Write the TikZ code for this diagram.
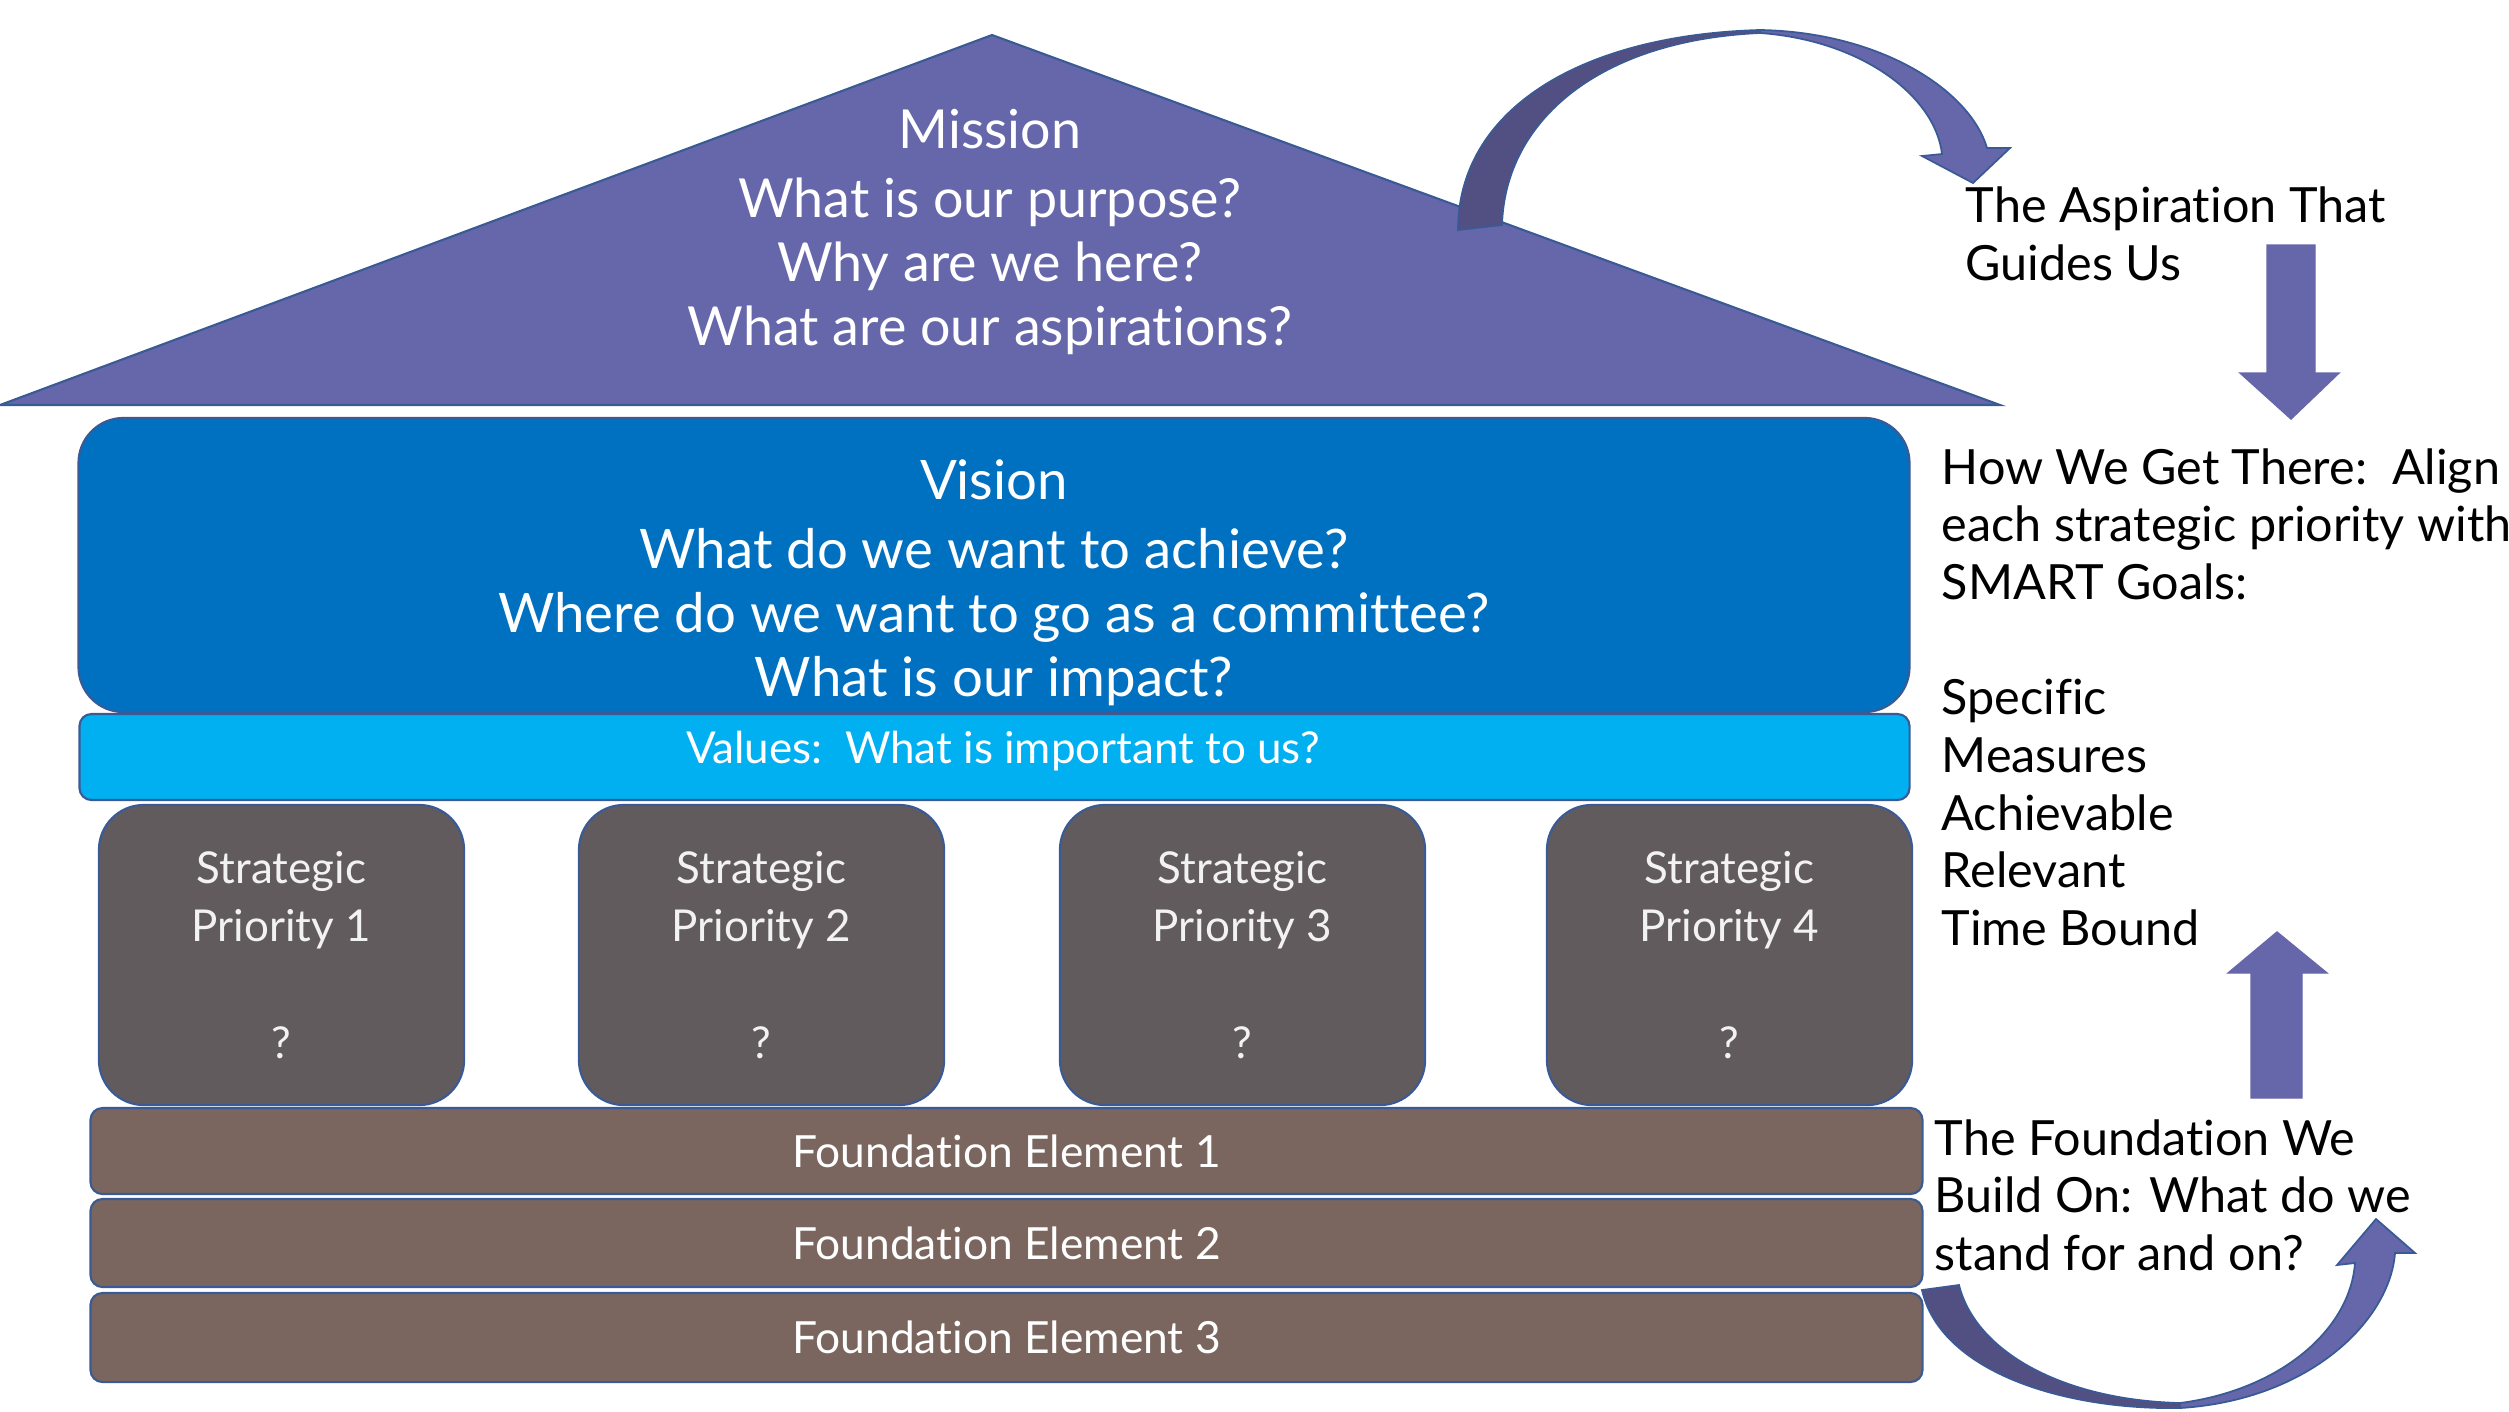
\documentclass[tikz,border=0pt]{standalone}
\usepackage{fontspec}
\setmainfont{Lato}[Ligatures=NoCommon]
\definecolor{roof}{HTML}{6567AA}
\definecolor{roofdark}{HTML}{524F82}
\definecolor{edge}{HTML}{3A5A96}
\definecolor{vision}{HTML}{0070C0}
\definecolor{values}{HTML}{00B0F0}
\definecolor{pillar}{HTML}{625B5E}
\definecolor{found}{HTML}{7A665F}
\begin{document}
\begin{tikzpicture}[x=0.01cm,y=-0.01cm,
  box/.style={draw=edge, line width=0.6pt, inner sep=0pt},
  whitetxt/.style={text=white, align=center, inner sep=0pt},
  sidetxt/.style={text=black, align=left, inner sep=0pt, anchor=west, font=\fontsize{13.8}{16.4}\selectfont},
  pillarbox/.style={box, fill=pillar, rounded corners=0.45cm, minimum width=3.65cm, minimum height=3.0cm, text=white!95!black, align=center, font=\fontsize{12.5}{16.4}\selectfont},
  foundbox/.style={box, fill=found, rounded corners=0.12cm, minimum width=18.31cm, text=white, font=\fontsize{12.6}{14}\selectfont},
  blockarrow/.style={fill=roof, draw=roof, line width=0.4pt},
  curvedark/.style={fill=roofdark, draw=edge, line width=0.5pt},
  curvelight/.style={fill=roof, draw=edge, line width=0.5pt}
]
\useasboundingbox (0,0) rectangle (2509,1411);

% roof
\filldraw[fill=roof, draw=edge, line width=0.6pt] (0,405) -- (992,35) -- (2000,405) -- cycle;
\node[whitetxt, font=\fontsize{15.3}{18.2}\selectfont] (mission) at (990,232)
  {Mission\\[1.5pt]What is our purpose?\\Why are we here?\\What are our aspirations?};

% vision
\node[box, fill=vision, rounded corners=0.45cm, minimum width=18.30cm, minimum height=2.94cm] (vision) at (994,565) {};
\node[whitetxt, font=\fontsize{15.5}{18.2}\selectfont] (visiontext) at (994,583)
  {Vision\\[1.5pt]What do we want to achieve?\\Where do we want to go as a committee?\\What is our impact?};

% values
\node[box, fill=values, rounded corners=0.12cm, minimum width=18.29cm, minimum height=0.86cm] (values) at (994.5,757) {};
\node[whitetxt, font=\fontsize{12.5}{15}\selectfont] (valuestext) at (1003,751) {Values:\ \ What is important to us?};

% pillars
\foreach \i/\x in {1/281.5,2/761.5,3/1242.5,4/1729.5}
  \node[pillarbox] (p\i) at (\x,955) {Strategic\\Priority \i\\[17pt]?};

% foundation
\node[foundbox, minimum height=0.86cm] (f1) at (1006.5,1151) {Foundation Element 1};
\node[foundbox, minimum height=0.88cm] (f2) at (1006.5,1243) {Foundation Element 2};
\node[foundbox, minimum height=0.89cm] (f3) at (1006.5,1337.5) {Foundation Element 3};

% side texts
\node[sidetxt] (aspiration) at (1965,234) {The Aspiration That\\Guides Us};
\node[sidetxt] (howwe) at (1941,697) {How We Get There:\ \ Align\\each strategic priority with\\SMART Goals:\\ \\Specific\\Measures\\Achievable\\Relevant\\Time Bound};
\node[sidetxt] (foundtxt) at (1934,1195) {The Foundation We\\Build On: What do we\\stand for and on?};

% straight block arrows
\filldraw[blockarrow] (2267,245) -- (2315,245) -- (2315,373) -- (2339,373) -- (2291,419) -- (2240,373) -- (2267,373) -- cycle;
\filldraw[blockarrow] (2251,1098) -- (2302,1098) -- (2302,973) -- (2327,973) -- (2277,932) -- (2228,973) -- (2251,973) -- cycle;

% top curved arrow
\filldraw[curvedark] (1458,230) .. controls (1458,110) and (1580,35) .. (1760,30)
  -- (1760,33) .. controls (1600,40) and (1505,120) .. (1502,225) -- cycle;
\filldraw[curvelight] (1760,30) .. controls (1880,32) and (1970,90) .. (1987,148)
  -- (2010,148) -- (1973,183) -- (1922,156) -- (1942,154)
  .. controls (1935,95) and (1860,40) .. (1760,33) -- cycle;

% bottom curved arrow
\filldraw[curvedark] (1922,1290) .. controls (1940,1370) and (2060,1410) .. (2180,1408)
  -- (2180,1403) .. controls (2060,1400) and (1975,1350) .. (1959,1285) -- cycle;
\filldraw[curvelight] (2180,1408) .. controls (2310,1400) and (2390,1320) .. (2395,1253)
  -- (2415,1253) -- (2376,1219) -- (2337,1265) -- (2355,1263)
  .. controls (2350,1330) and (2280,1390) .. (2180,1403) -- cycle;
\end{tikzpicture}
\end{document}
